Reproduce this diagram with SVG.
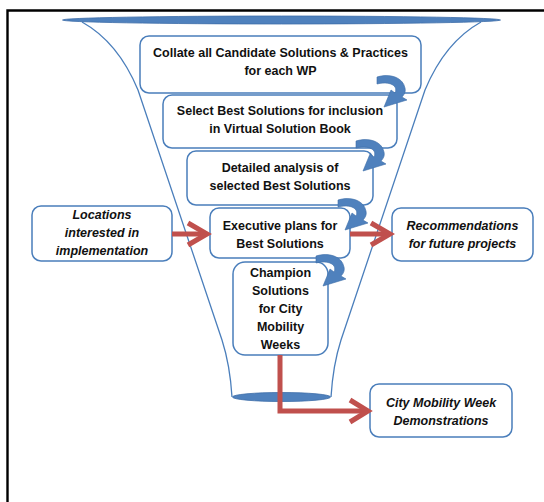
<svg xmlns="http://www.w3.org/2000/svg" width="544" height="502" viewBox="0 0 544 502">
<style>
.frame{stroke:#000;stroke-width:2.4;fill:none}
.funnel{fill:none;stroke:#4a7ebb;stroke-width:1.3}
.disc{fill:#4f81bd;stroke:#3d6da8;stroke-width:0.8}
.box{fill:#fff;stroke:#4a7ebb;stroke-width:1.5}
.t{font-family:"Liberation Sans",Arial,sans-serif;font-weight:bold;font-size:12.5px;fill:#111;text-anchor:middle;dominant-baseline:central}
.i{font-style:italic}
.red{fill:none;stroke:#c0504d;stroke-width:5}
.curl{fill:#4f81bd;stroke:#3d6da8;stroke-width:0.6}
</style>
<defs>
<path id="curl" d="M0,0 C12,-4 26,0 28,11 C29,15 27,18 25,20 L30,23 L7,30 L14,13 L18,16 C19,14 19,12 18,10 C15,6 8,5 0,7 Z"/>
</defs>
<rect width="544" height="502" fill="#fff"/>
<path class="frame" d="M7.5,502 V10.5 H544"/>
<g id="funnel">
<path class="funnel" d="M82,22 Q118,42 138,90 L222,340 Q230,365 232,397"/>
<path class="funnel" d="M481,22 Q445,42 425,90 L341,340 Q333,365 331,397"/>
<ellipse class="disc" cx="281.5" cy="20" rx="219" ry="4"/>
<ellipse class="disc" cx="281.5" cy="397" rx="49" ry="4.5"/>
</g>
<g id="box1"><rect class="box" x="140" y="36" width="281" height="57" rx="9"/>
<text class="t" x="280.5" y="53">Collate all Candidate Solutions &amp; Practices</text>
<text class="t" x="280.5" y="71">for each WP</text></g>
<g id="box2"><rect class="box" x="163" y="95" width="234" height="53" rx="9"/>
<text class="t" x="280" y="111">Select Best Solutions for inclusion</text>
<text class="t" x="280" y="129">in Virtual Solution Book</text></g>
<g id="box3"><rect class="box" x="187" y="151" width="186" height="54" rx="9"/>
<text class="t" x="280" y="168">Detailed analysis of</text>
<text class="t" x="280" y="186">selected Best Solutions</text></g>
<g id="box4"><rect class="box" x="210" y="208" width="140" height="50" rx="9"/>
<text class="t" x="280" y="226">Executive plans for</text>
<text class="t" x="280" y="244">Best Solutions</text></g>
<g id="box5"><rect class="box" x="233" y="262" width="95" height="93" rx="12"/>
<text class="t" x="280.5" y="273">Champion</text>
<text class="t" x="280.5" y="291">Solutions</text>
<text class="t" x="280.5" y="309">for City</text>
<text class="t" x="280.5" y="327">Mobility</text>
<text class="t" x="280.5" y="345">Weeks</text></g>
<g id="locations"><rect class="box" x="32" y="206" width="140" height="55" rx="9"/>
<text class="t i" x="102" y="215">Locations</text>
<text class="t i" x="102" y="233">interested in</text>
<text class="t i" x="102" y="251">implementation</text></g>
<g id="recommendations"><rect class="box" x="392" y="208" width="141" height="53" rx="9"/>
<text class="t i" x="462.5" y="226">Recommendations</text>
<text class="t i" x="462.5" y="244">for future projects</text></g>
<g id="demonstrations"><rect class="box" x="370" y="384" width="142" height="53" rx="9"/>
<text class="t i" x="441" y="403">City Mobility Week</text>
<text class="t i" x="441" y="421">Demonstrations</text></g>
<g id="connectors">
<use href="#curl" class="curl" transform="translate(377,77)"/>
<use href="#curl" class="curl" transform="translate(356,141)"/>
<use href="#curl" class="curl" transform="translate(338,200)"/>
<use href="#curl" class="curl" transform="translate(316,256)"/>
<path class="red" d="M172,234 H206"/>
<path class="red" d="M188,223 L207,234 L188,245"/>
<path class="red" d="M350,234 H389"/>
<path class="red" d="M371,223 L390,234 L371,245"/>
<path class="red" d="M280,355 V411 H367"/>
<path class="red" d="M350,400 L368,411 L350,422"/>
</g>
</svg>
